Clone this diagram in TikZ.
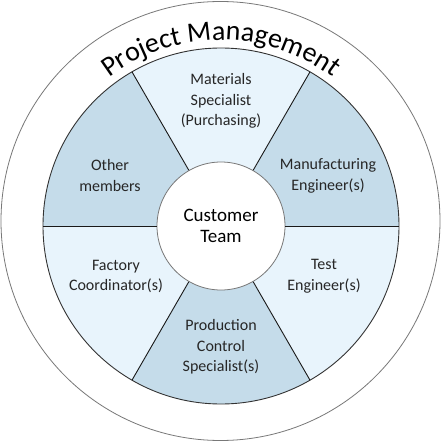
\documentclass[tikz,border=0pt]{standalone}
\usepackage{fontspec}
\setmainfont{Carlito}
\usetikzlibrary{decorations.text}
\definecolor{secdark}{RGB}{197,220,234}
\definecolor{seclight}{RGB}{232,244,252}
\definecolor{rimgray}{RGB}{120,120,120}
\newcommand{\titlefont}{\fontsize{28}{30}\selectfont}
\begin{document}
\begin{tikzpicture}[x=1pt,y=1pt,
  label/.style={align=center, inner sep=0pt, font=\fontsize{16}{20.5}\selectfont, text=black!85},
  divider/.style={draw=black!90, line width=0.9pt},
  rim/.style={draw=rimgray, line width=0.8pt}]
\useasboundingbox (-221,-216) rectangle (221,226);
\fill[white] (-221,-216) rectangle (221,226);
% outer circle
\draw[rim] (-0.5,5) circle[radius=219.5];
% sectors
\fill[secdark]  (0,0) -- (0:178)   arc[start angle=0,   end angle=60,  radius=178] -- cycle;
\fill[seclight] (0,0) -- (60:178)  arc[start angle=60,  end angle=120, radius=178] -- cycle;
\fill[secdark]  (0,0) -- (120:178) arc[start angle=120, end angle=180, radius=178] -- cycle;
\fill[seclight] (0,0) -- (180:178) arc[start angle=180, end angle=240, radius=178] -- cycle;
\fill[secdark]  (0,0) -- (240:178) arc[start angle=240, end angle=300, radius=178] -- cycle;
\fill[seclight] (0,0) -- (300:178) arc[start angle=300, end angle=360, radius=178] -- cycle;
\draw[draw=black!80, line width=0.9pt] (0,0) circle[radius=178];
% centre
\node[circle, minimum size=128pt, inner sep=0pt, fill=white, draw=rimgray, line width=0.8pt,
      align=center, font=\fontsize{19}{21}\selectfont] (team) at (0,0) {Customer\\Team};
\foreach \a in {0,60,...,300} {
  \coordinate (rimpt\a) at (\a:178);
  \draw[divider] (team.\a) -- (rimpt\a);
}
% labels
\node[label] (materials) at (0,125) {Materials\\Specialist\\(Purchasing)};
\node[label] (other) at (-111,50.5) {Other\\members};
\node[label] (manuf) at (107,50) {Manufacturing\\Engineer(s)};
\node[label] (factory) at (-105,-50.5) {Factory\\Coordinator(s)};
\node[label] (test) at (103,-50) {Test\\Engineer(s)};
\node[label] (prod) at (0,-121) {Production\\Control\\Specialist(s)};
% title
\path[decorate, decoration={text along path, text align=center,
      text={|\titlefont|Project Management}}]
  (180:186) arc[start angle=180, end angle=0, radius=186];
\end{tikzpicture}
\end{document}
